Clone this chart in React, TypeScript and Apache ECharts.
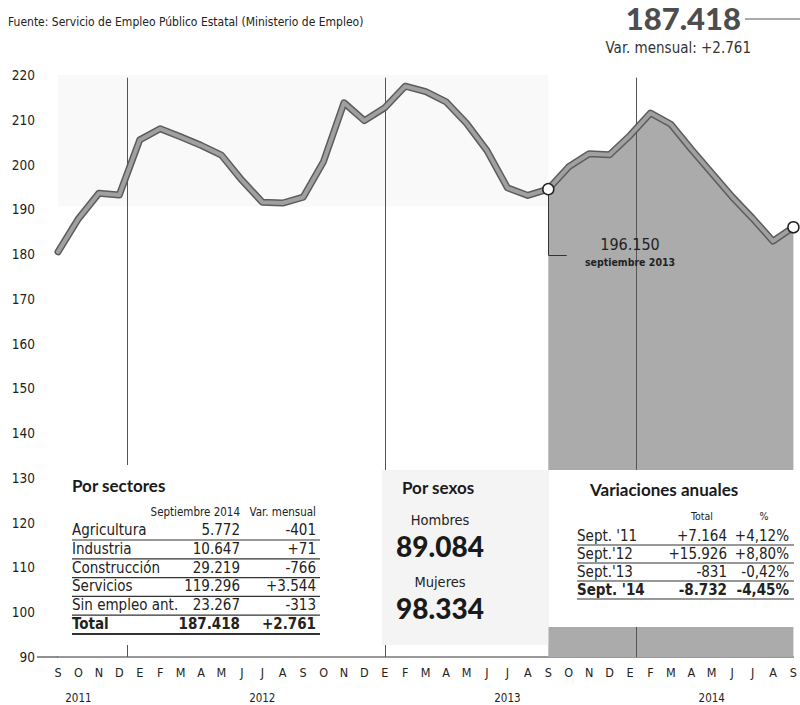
import React, { useEffect, useRef } from 'react';
import * as echarts from 'echarts';

// ---------- DATA ----------
const months = ['S','O','N','D','E','F','M','A','M','J','J','A','S','O','N','D','E','F','M','A','M','J','J','A','S','O','N','D','E','F','M','A','M','J','J','A','S'];
const yearNames = ['2011', '2012', '2013', '2014'];
const yearLabelIndex = [1, 10, 22, 32];
const yearBoundaries = [3.4, 16, 28.3];
// Parados registrados (miles), septiembre 2011 - septiembre 2014
const paro = [
  180.5, 187.9, 193.6, 193.2,
  205.5, 208.0, 206.2, 204.3, 202.1, 196.5, 191.6, 191.4, 192.7, 200.7, 213.8, 209.8,
  212.7, 217.5, 216.3, 214.0, 209.2, 203.1, 194.8, 193.1, 194.5, 199.5, 202.4, 202.2,
  206.5, 211.5, 209.0, 203.4, 198.1, 192.8, 188.0, 182.9, 186.0,
];
const highlightStart = 24;
const yMin = 90;
const yMax = 220;
const yStep = 10;

const sectorNames = ['Agricultura', 'Industria', 'Construcción', 'Servicios', 'Sin empleo ant.', 'Total'];
const sectorValues = ['5.772', '10.647', '29.219', '119.296', '23.267', '187.418'];
const sectorVar = ['-401', '+71', '-766', '+3.544', '-313', '+2.761'];

const sexLabels = ['Hombres', 'Mujeres'];
const sexValues = ['89.084', '98.334'];

const annualLabels = ["Sept. '11", "Sept.'12", "Sept.'13", "Sept. '14"];
const annualTotals = ['+7.164', '+15.926', '-831', '-8.732'];
const annualPct = ['+4,12%', '+8,80%', '-0,42%', '-4,45%'];

const headlineTotal = '187.418';
const headlineVar = 'Var. mensual: +2.761';
const source = 'Fuente: Servicio de Empleo Público Estatal (Ministerio de Empleo)';
const noteValue = '196.150';
const noteLabel = 'septiembre 2013';
const noteY = 179.8;

// ---------- STYLE ----------
const COND = "'Liberation Sans Narrow', 'DejaVu Sans Condensed', 'Arial Narrow', sans-serif";
const HEAVY = "Lato, 'Open Sans', 'DejaVu Sans', sans-serif";
const INK = '#222';

function txt(text: string, x: number, y: number, o: any = {}) {
  return {
    type: 'text',
    x,
    y,
    z: 100,
    silent: true,
    style: {
      text,
      fill: o.fill || INK,
      fontSize: o.size || 14,
      fontFamily: o.family || COND,
      fontWeight: o.weight || 'normal',
      textAlign: o.align || 'left',
      textVerticalAlign: 'middle',
    },
  };
}
function hline(x1: number, x2: number, y: number, w = 1.2, color = '#333') {
  return { type: 'line', z: 100, silent: true, shape: { x1, y1: y, x2, y2: y }, style: { stroke: color, lineWidth: w } };
}
function box(x: number, y: number, w: number, h: number, fill: string) {
  return { type: 'rect', z: 99, silent: true, shape: { x, y, width: w, height: h }, style: { fill } };
}

function buildGraphics(x24: number, y90: number) {
  const g: any[] = [];
  // header
  g.push(txt(source, 8, 22, { size: 12 }));
  g.push(txt(headlineTotal, 741, 18, { size: 31, family: HEAVY, weight: 900, fill: '#4d4d4d', align: 'right' }));
  g.push(hline(745, 800, 19, 1, '#555'));
  g.push(txt(headlineVar, 751, 48, { size: 15, align: 'right', fill: '#333' }));
  // 90 tick dash
  g.push(hline(37, 58, y90, 1.2, '#444'));

  // boxes
  g.push(box(60, 465, 320, 180, '#ffffff'));
  g.push(box(382, 470, x24 - 382, 175, '#f4f4f4'));
  g.push(box(x24, 470, 800 - x24, 157, '#ffffff'));

  // Por sectores
  g.push(txt('Por sectores', 72, 485, { size: 17, family: HEAVY, weight: 'bold', fill: '#1a1a1a' }));
  g.push(txt('Septiembre 2014', 240, 512, { size: 11.5, align: 'right' }));
  g.push(txt('Var. mensual', 316, 512, { size: 11.5, align: 'right' }));
  sectorNames.forEach((n, k) => {
    const y = 530 + 18.8 * k;
    const bold = k === sectorNames.length - 1 ? 'bold' : 'normal';
    g.push(txt(n, 72, y, { size: 15, weight: bold }));
    g.push(txt(sectorValues[k], 240, y, { size: 15, align: 'right', weight: bold }));
    g.push(txt(sectorVar[k], 316, y, { size: 15, align: 'right', weight: bold }));
    g.push(hline(72, 320, y + 10, k === sectorNames.length - 1 ? 2 : 1.2));
  });

  // Por sexos
  g.push(txt('Por sexos', 402, 487, { size: 17, family: HEAVY, weight: 'bold', fill: '#1a1a1a' }));
  sexLabels.forEach((n, k) => {
    const y = 520 + 62 * k;
    g.push(txt(n, 440, y, { size: 14.5, align: 'center' }));
    g.push(txt(sexValues[k], 440, y + 26, { size: 28, family: HEAVY, weight: 900, align: 'center', fill: '#1a1a1a' }));
  });

  // Variaciones anuales
  g.push(txt('Variaciones anuales', 590, 489, { size: 17, family: HEAVY, weight: 'bold', fill: '#1a1a1a' }));
  g.push(txt('Total', 702, 516, { size: 10.5, align: 'center' }));
  g.push(txt('%', 764, 516, { size: 10.5, align: 'center' }));
  annualLabels.forEach((n, k) => {
    const y = 536 + 18 * k;
    const bold = k === annualLabels.length - 1 ? 'bold' : 'normal';
    g.push(txt(n, 577, y, { size: 15, weight: bold }));
    g.push(txt(annualTotals[k], 727, y, { size: 15, align: 'right', weight: bold }));
    g.push(txt(annualPct[k], 789, y, { size: 15, align: 'right', weight: bold }));
    g.push(hline(577, 794, y + 9, 1.2));
  });
  return g;
}

const option: any = {
  animation: false,
  backgroundColor: '#ffffff',
  textStyle: { fontFamily: COND },
  grid: { left: 58, right: -2, top: 75, bottom: 48, containLabel: false },
  xAxis: [
    {
      type: 'category',
      data: months,
      boundaryGap: false,
      axisLine: { show: true, lineStyle: { color: '#777', width: 1.5 } },
      axisTick: { show: false },
      splitLine: { show: false },
      axisLabel: { interval: 0, color: INK, fontSize: 12.5, margin: 9, fontFamily: COND },
    },
    { type: 'value', min: 0, max: months.length - 1, show: false },
    {
      type: 'category',
      data: months,
      boundaryGap: false,
      position: 'bottom',
      offset: 26,
      axisLine: { show: false },
      axisTick: { show: false },
      axisLabel: {
        interval: 0,
        color: INK,
        fontSize: 11.5,
        fontFamily: COND,
        margin: 9,
        formatter: (_v: string, idx: number) => {
          const p = yearLabelIndex.indexOf(idx);
          return p >= 0 ? yearNames[p] : '';
        },
      },
    },
  ],
  yAxis: {
    type: 'value',
    min: yMin,
    max: yMax,
    interval: yStep,
    axisLine: { show: false },
    axisTick: { show: false },
    splitLine: { show: false },
    axisLabel: { color: INK, fontSize: 13.5, margin: 23, fontFamily: COND },
  },
  series: [
    {
      type: 'line',
      name: 'area',
      xAxisIndex: 0,
      data: paro.map((v, i) => (i >= highlightStart ? v : null)),
      symbol: 'none',
      lineStyle: { width: 0 },
      areaStyle: { color: '#ababab', opacity: 1, origin: 'start' },
      silent: true,
      z: 1,
    },
    {
      type: 'line',
      name: 'marks',
      xAxisIndex: 1,
      data: [[0, yMin]],
      symbol: 'none',
      lineStyle: { opacity: 0 },
      silent: true,
      z: 3,
      markArea: {
        silent: true,
        itemStyle: { color: '#f9f9f9' },
        data: [[{ coord: [0, yMax] }, { coord: [highlightStart, 190.6] }]],
      },
      markLine: {
        silent: true,
        symbol: 'none',
        label: { show: false },
        lineStyle: { color: '#555', width: 1, type: 'solid' },
        data: [
          ...yearBoundaries.map((b) => [{ coord: [b, yMax - 0.6] }, { coord: [b, yMin] }]),
          [
            { coord: [highlightStart, paro[highlightStart]], lineStyle: { color: '#333' } },
            { coord: [highlightStart, noteY] },
          ],
          [
            { coord: [highlightStart, noteY], lineStyle: { color: '#333' } },
            { coord: [highlightStart + 0.9, noteY] },
          ],
        ],
      },
      markPoint: {
        silent: true,
        symbol: 'circle',
        symbolSize: 1,
        itemStyle: { color: 'rgba(0,0,0,0)' },
        data: [
          {
            coord: [highlightStart + 4.0, noteY + 2.3],
            label: { show: true, position: 'inside', formatter: noteValue, color: INK, fontSize: 16, fontFamily: COND },
          },
          {
            coord: [highlightStart + 4.0, noteY - 1.6],
            label: { show: true, position: 'inside', formatter: noteLabel, color: INK, fontSize: 10.5, fontWeight: 'bold', fontFamily: COND },
          },
        ],
      },
    },
    {
      type: 'line',
      name: 'outline',
      xAxisIndex: 0,
      data: paro,
      symbol: 'none',
      lineStyle: { width: 7, color: '#5c5c5c', join: 'round', cap: 'round' },
      silent: true,
      z: 4,
    },
    {
      type: 'line',
      name: 'Parados',
      xAxisIndex: 0,
      data: paro.map((v, i) =>
        i === highlightStart || i === paro.length - 1
          ? { value: v, symbol: 'circle', symbolSize: 11, itemStyle: { color: '#ffffff', borderColor: '#222', borderWidth: 1.5 } }
          : v
      ),
      symbol: 'none',
      showAllSymbol: true,
      lineStyle: { width: 4, color: '#a0a0a0', join: 'round', cap: 'round' },
      silent: true,
      z: 5,
    },
  ],
};

export default function App() {
  const ref = useRef<HTMLDivElement>(null);
  useEffect(() => {
    const el = ref.current;
    if (!el) return;
    const chart = echarts.init(el, null, { renderer: 'svg' });
    chart.setOption(option);
    const x24 = chart.convertToPixel({ xAxisIndex: 0 }, highlightStart) as number;
    const y90 = chart.convertToPixel({ yAxisIndex: 0 }, yMin) as number;
    chart.setOption({ graphic: buildGraphics(x24, y90) });
    return () => chart.dispose();
  }, []);
  return (
    <div
      ref={ref}
      style={{ position: 'fixed', left: 0, top: 0, width: 800, height: 705, background: '#fff' }}
    />
  );
}
